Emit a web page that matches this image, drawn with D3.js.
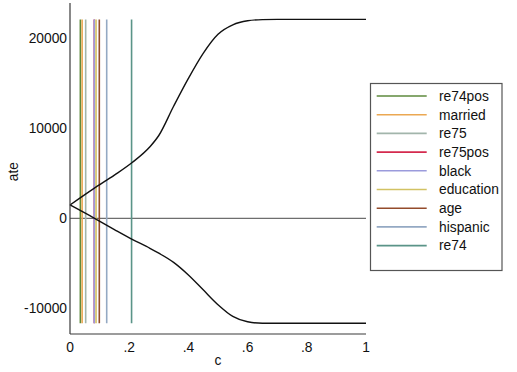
<!DOCTYPE html>
<html>
<head>
<meta charset="utf-8">
<script src="https://cdn.jsdelivr.net/npm/d3@7"></script>
<style>
  body { margin: 0; background: #fff; }
  svg { display: block; font-family: Arial, "Liberation Sans", sans-serif; }
</style>
</head>
<body>
<svg id="chart" width="517" height="372"></svg>
<script>
// bounds of ate as a function of c
var cGrid    = [0, 0.08, 0.15, 0.21, 0.27, 0.3, 0.35, 0.4, 0.45, 0.5, 0.55, 0.6, 0.65, 0.7, 1];
var upperAte = [1480, 3300, 4800, 6200, 7950, 9200, 12450, 15550, 18333, 20450, 21500, 21950, 22080, 22100, 22100];
var lowerAte = [1480, 50, -1250, -2333, -3333, -3880, -4900, -6300, -7950, -9600, -10900, -11500, -11667, -11667, -11667];

// covariate reference lines
var covNames  = ["re74pos", "married", "re75", "re75pos", "black", "education", "age", "hispanic", "re74"];
var covC      = [0.035, 0.041, 0.053, 0.082, 0.082, 0.088, 0.099, 0.124, 0.208];
var covColors = ["#5e8a3c", "#eba852", "#a2b5ab", "#d42a4e", "#9b9bdc", "#d2c263", "#934b2b", "#94a9c3", "#5a9488"];

var xTicks = [0, 0.2, 0.4, 0.6, 0.8, 1];
var xTickLabels = ["0", ".2", ".4", ".6", ".8", "1"];
var yTicks = [-10000, 0, 10000, 20000];

var svg = d3.select("#chart");

var x = d3.scaleLinear().domain([0, 1]).range([70, 366]);
var y = d3.scaleLinear().domain([-10000, 20000]).range([308.3, 38.3]);

var yTop = 3, yBottom = 334;

// zero line
svg.append("line")
    .attr("x1", x(0)).attr("x2", x(1))
    .attr("y1", y(0)).attr("y2", y(0))
    .attr("stroke", "#6e6e6e").attr("stroke-width", 1.2);

// vertical lines for covariates
var vTop = d3.max(upperAte), vBottom = d3.min(lowerAte);
svg.append("g").selectAll("line")
    .data(covC)
    .enter().append("line")
    .attr("x1", function(d) { return x(d); })
    .attr("x2", function(d) { return x(d); })
    .attr("y1", y(vTop))
    .attr("y2", y(vBottom))
    .attr("stroke", function(d, i) { return covColors[i]; })
    .attr("stroke-width", 1.6);

// bound curves
var line = d3.line()
    .x(function(d, i) { return x(cGrid[i]); })
    .y(function(d) { return y(d); })
    .curve(d3.curveMonotoneX);

[upperAte, lowerAte].forEach(function(s) {
    svg.append("path")
        .attr("d", line(s))
        .attr("fill", "none")
        .attr("stroke", "#111")
        .attr("stroke-width", 1.4);
});

// axes
svg.append("line")
    .attr("x1", 70).attr("x2", 70).attr("y1", yTop).attr("y2", yBottom)
    .attr("stroke", "#3a3a3a").attr("stroke-width", 1.2);
svg.append("line")
    .attr("x1", 70).attr("x2", 366).attr("y1", yBottom).attr("y2", yBottom)
    .attr("stroke", "#3a3a3a").attr("stroke-width", 1.2);

svg.append("g").selectAll("text")
    .data(yTicks)
    .enter().append("text")
    .attr("x", 67)
    .attr("y", function(d) { return y(d); })
    .attr("dy", "0.35em")
    .attr("text-anchor", "end")
    .attr("font-size", "13.8px")
    .attr("fill", "#111")
    .text(function(d) { return d; });

svg.append("g").selectAll("text")
    .data(xTicks)
    .enter().append("text")
    .attr("x", function(d) { return x(d); })
    .attr("y", 346.7)
    .attr("dy", "0.35em")
    .attr("text-anchor", "middle")
    .attr("font-size", "13.8px")
    .attr("fill", "#111")
    .text(function(d, i) { return xTickLabels[i]; });

svg.append("text")
    .attr("x", 218).attr("y", 360)
    .attr("dy", "0.35em")
    .attr("text-anchor", "middle")
    .attr("font-size", "13.8px")
    .attr("fill", "#111")
    .text("c");

svg.append("text")
    .attr("transform", "translate(12.7,171.7) rotate(-90)")
    .attr("dy", "0.35em")
    .attr("text-anchor", "middle")
    .attr("font-size", "13.8px")
    .attr("fill", "#111")
    .text("ate");

// legend
var lg = svg.append("g");
lg.append("rect")
    .attr("x", 370.5).attr("y", 83.5)
    .attr("width", 131.5).attr("height", 187)
    .attr("fill", "#fff")
    .attr("stroke", "#555").attr("stroke-width", 1.2);

var rows = lg.selectAll("g.row")
    .data(covNames)
    .enter().append("g")
    .attr("class", "row")
    .attr("transform", function(d, i) { return "translate(0," + (96 + i * 18.7) + ")"; });

rows.append("line")
    .attr("x1", 376.7).attr("x2", 426.7)
    .attr("y1", 0).attr("y2", 0)
    .attr("stroke", function(d, i) { return covColors[i]; })
    .attr("stroke-width", 1.6);

rows.append("text")
    .attr("x", 439)
    .attr("y", 0)
    .attr("dy", "0.35em")
    .attr("font-size", "13.8px")
    .attr("fill", "#111")
    .text(function(d) { return d; });
</script>
</body>
</html>
